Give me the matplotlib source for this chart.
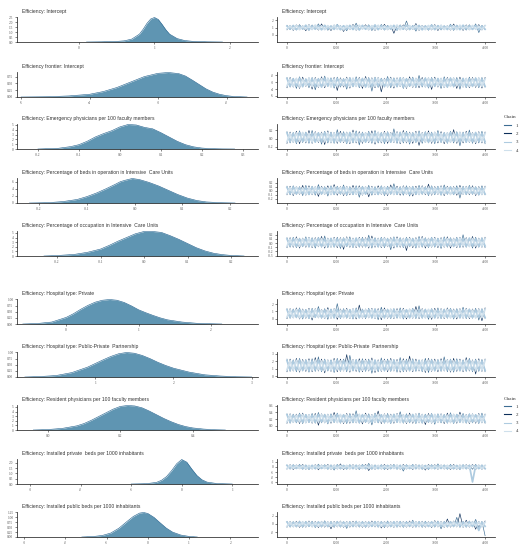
import numpy as np
import matplotlib
matplotlib.use("Agg")
import matplotlib.pyplot as plt
from matplotlib.lines import Line2D

# ---------------------------------------------------------------- data
titles = [
    "Efficiency: Intercept",
    "Efficiency frontier: Intercept",
    "Efficiency: Emergency physicians per 100 faculty members",
    "Efficiency: Percentage of beds in operation in Intensive  Care Units",
    "Efficiency: Percentage of occupation in Intensive  Care Units",
    "Efficiency: Hospital type: Private",
    "Efficiency: Hospital type: Public-Private  Partnership",
    "Efficiency: Resident physicians per 100 faculty members",
    "Efficiency: Installed private  beds per 1000 inhabitants",
    "Efficiency: Installed public beds per 1000 inhabitants",
]
chain_labels = ["1", "2", "3", "4"]
n_iterations = 4000
trace_xticks = [0, 1000, 2000, 3000, 4000]

# --- panel 1: Intercept
p1_dens_x = [0.1, 0.3, 0.5, 0.6, 0.7, 0.8, 0.85, 0.9, 0.95, 1.0, 1.05, 1.1, 1.15, 1.2, 1.3, 1.4, 1.5, 1.7, 1.9]
p1_dens_y = [0.0, 0.02, 0.06, 0.12, 0.3, 0.8, 1.3, 1.9, 2.35, 2.5, 2.3, 1.8, 1.25, 0.8, 0.35, 0.15, 0.07, 0.02, 0.0]
p1_dens_lims = (-0.82, 2.37)
p1_dens_xticks = [0, 1, 2]
p1_dens_yticks = [0, 0.5, 1.0, 1.5, 2.0, 2.5]
p1_trace_lims = (-1.0, 2.45)
p1_trace_yticks = [0, 1, 2]
p1_chains = [
    [1.3, 0.7, 1.25, 0.65, 1.4, 0.75, 1.2, 0.6, 1.35, 0.8, 1.5, 0.7, 1.3, 0.62, 1.22, 0.78, 1.45, 0.68, 1.28, 0.55, 1.33, 0.72,
     1.6, 0.66, 1.26, 0.74, 1.38, 0.58, 1.24, 0.7, 1.42, 0.64, 1.3, 0.76, 1.2, 0.6, 1.36, 0.7, 1.9, 0.68, 1.28, 0.5, 1.32,
     0.74, 1.25, 0.62, 1.4, 0.7, 1.3, 0.66, 1.22, 0.78, 1.46, 0.6, 1.34, 0.72, 1.27, 0.64, 1.38, 0.7, 1.5, 0.3, 1.3, 0.72],
    [0.68, 1.3, 0.6, 1.36, 0.74, 1.24, 0.55, 1.4, 0.7, 1.28, 0.64, 1.5, 0.72, 1.2, 0.58, 1.34, 0.76, 1.26, 0.45, 1.3, 0.7,
     1.42, 0.62, 1.25, 0.8, 1.38, 0.66, 1.22, 0.6, 1.32, 0.74, 1.44, 0.68, 1.28, 0.2, 1.3, 0.7, 1.36, 0.64, 1.24, 0.72, 1.55,
     0.6, 1.3, 0.76, 1.27, 0.66, 1.4, 0.58, 1.33, 0.7, 1.25, 0.64, 1.48, 0.72, 1.3, 0.6, 1.36, 0.68, 1.22, 0.74, 1.4, 0.66, 1.3],
    [1.2, 0.78, 1.28, 0.72, 1.18, 0.8, 1.32, 0.7, 1.22, 0.76, 1.26, 0.68, 1.3, 0.8, 1.2, 0.74, 1.34, 0.7, 1.24, 0.78, 1.28,
     0.72, 1.2, 0.66, 1.3, 0.76, 1.22, 0.8, 1.36, 0.7, 1.25, 0.74, 1.18, 0.78, 1.3, 0.7, 1.24, 0.76, 1.32, 0.72, 1.2, 0.8,
     1.28, 0.68, 1.22, 0.74, 1.34, 0.7, 1.26, 0.78, 1.2, 0.72, 1.3, 0.76, 1.24, 0.7, 1.32, 0.8, 1.22, 0.74, 1.28, 0.7, 1.2, 0.76],
    [0.8, 1.24, 0.74, 1.3, 0.7, 1.2, 0.78, 1.28, 0.72, 1.34, 0.76, 1.22, 0.7, 1.26, 0.8, 1.3, 0.74, 1.2, 0.68, 1.28, 0.76,
     1.24, 0.72, 1.32, 0.78, 1.2, 0.7, 1.26, 0.74, 1.3, 0.8, 1.22, 0.72, 1.28, 0.76, 1.34, 0.7, 1.2, 0.74, 1.26, 0.78, 1.3,
     0.72, 1.22, 0.7, 1.28, 0.76, 1.24, 0.8, 1.3, 0.72, 1.2, 0.74, 1.26, 0.7, 1.32, 0.78, 1.22, 0.72, 1.28, 0.76, 1.2, 0.74, 1.26],
]

# --- panel 2: Efficiency frontier intercept
p2_dens_x = [-5.0, -4.6, -4.3, -4.0, -3.8, -3.6, -3.4, -3.2, -3.0, -2.85, -2.7, -2.6, -2.5, -2.4, -2.3, -2.2, -2.1, -2.0, -1.9, -1.7]
p2_dens_y = [0.0, 0.01, 0.04, 0.1, 0.2, 0.35, 0.55, 0.75, 0.87, 0.9, 0.86, 0.77, 0.62, 0.46, 0.3, 0.18, 0.1, 0.05, 0.02, 0.0]
p2_dens_lims = (-5.06, -1.54)
p2_dens_xticks = [-5, -4, -3, -2]
p2_dens_yticks = [0, 0.25, 0.5, 0.75]
p2_trace_lims = (-5.15, -1.5)
p2_trace_yticks = [-5, -4, -3, -2]
p2_chains = [
    [-2.3, -3.7, -2.4, -3.9, -2.2, -3.6, -2.5, -3.8, -2.3, -4.1, -2.4, -3.7, -2.1, -3.6, -2.35, -3.85, -2.25, -3.7, -2.45,
     -4.0, -2.3, -3.65, -2.2, -3.8, -2.4, -3.7, -2.3, -4.3, -2.25, -3.75, -2.4, -3.6, -2.15, -3.8, -2.35, -3.7, -2.3, -3.9,
     -2.4, -3.65, -2.25, -3.8, -2.0, -3.7, -2.35, -3.85, -2.3, -3.6, -2.45, -3.9, -2.2, -3.75, -2.35, -3.7, -2.3, -4.0, -2.4,
     -3.8, -2.25, -3.65, -2.35, -3.8, -2.3, -3.7],
    [-3.8, -2.3, -3.7, -2.4, -3.9, -2.25, -3.6, -2.35, -4.0, -2.3, -3.75, -2.2, -3.8, -2.4, -3.65, -2.3, -4.2, -2.35, -3.7,
     -2.25, -3.85, -2.4, -3.6, -2.3, -3.9, -2.15, -3.7, -2.35, -3.8, -2.3, -4.4, -2.4, -3.7, -2.25, -3.85, -2.35, -3.65, -2.3,
     -3.9, -2.2, -3.75, -2.4, -3.8, -2.3, -3.7, -2.35, -4.05, -2.25, -3.7, -2.4, -3.8, -2.3, -3.65, -2.35, -3.9, -2.25, -3.7,
     -2.4, -3.8, -2.3, -3.75, -2.35, -3.85, -2.3],
    [-2.45, -3.6, -2.5, -3.55, -2.4, -3.65, -2.55, -3.5, -2.45, -3.6, -2.5, -3.7, -2.4, -3.55, -2.5, -3.6, -2.45, -3.5, -2.55,
     -3.65, -2.4, -3.6, -2.5, -3.55, -2.45, -3.7, -2.5, -3.6, -2.4, -3.55, -2.55, -3.65, -2.45, -3.5, -2.5, -3.6, -2.4, -3.7,
     -2.5, -3.55, -2.45, -3.6, -2.55, -3.5, -2.4, -3.65, -2.5, -3.6, -2.45, -3.55, -2.5, -3.7, -2.4, -3.6, -2.55, -3.5, -2.45,
     -3.65, -2.5, -3.6, -2.4, -3.55, -2.5, -3.6],
    [-3.55, -2.5, -3.6, -2.45, -3.7, -2.55, -3.5, -2.4, -3.65, -2.5, -3.6, -2.45, -3.55, -2.4, -3.7, -2.5, -3.6, -2.55, -3.5,
     -2.45, -3.65, -2.4, -3.6, -2.5, -3.55, -2.45, -3.7, -2.5, -3.6, -2.4, -3.5, -2.55, -3.65, -2.45, -3.6, -2.5, -3.55, -2.4,
     -3.7, -2.5, -3.6, -2.45, -3.5, -2.55, -3.65, -2.4, -3.6, -2.5, -3.55, -2.45, -3.7, -2.5, -3.6, -2.4, -3.5, -2.55, -3.65,
     -2.45, -3.6, -2.5, -3.55, -2.4, -3.6, -2.5],
]

# --- panel 3: Emergency physicians per 100 faculty members
p3_dens_x = [-0.2, -0.15, -0.12, -0.1, -0.08, -0.06, -0.04, -0.02, 0.0, 0.02, 0.04, 0.06, 0.08, 0.1, 0.12, 0.14, 0.16, 0.18, 0.2, 0.22, 0.25, 0.28]
p3_dens_y = [0.0, 0.15, 0.5, 0.9, 1.6, 2.5, 3.2, 3.8, 4.6, 5.1, 5.0, 4.5, 4.2, 3.4, 2.5, 1.6, 0.9, 0.45, 0.2, 0.08, 0.02, 0.0]
p3_dens_lims = (-0.251, 0.337)
p3_dens_xticks = [-0.2, -0.1, 0.0, 0.1, 0.2, 0.3]
p3_dens_yticks = [0, 1, 2, 3, 4, 5]
p3_trace_lims = (-0.26, 0.36)
p3_trace_yticks = [-0.2, 0.0, 0.2]
p3_chains = [
    [0.17, -0.11, 0.15, -0.13, 0.19, -0.1, 0.16, -0.12, 0.2, -0.09, 0.15, -0.14, 0.18, -0.11, 0.16, -0.12, 0.22, -0.1, 0.17,
     -0.13, 0.15, -0.11, 0.19, -0.16, 0.16, -0.1, 0.18, -0.12, 0.2, -0.11, 0.15, -0.13, 0.17, -0.1, 0.24, -0.12, 0.16, -0.11,
     0.18, -0.14, 0.15, -0.1, 0.19, -0.12, 0.17, -0.11, 0.16, -0.13, 0.2, -0.1, 0.15, -0.12, 0.18, -0.11, 0.17, -0.18, 0.16,
     -0.1, 0.21, -0.12, 0.15, -0.11, 0.18, -0.13],
    [-0.12, 0.16, -0.1, 0.18, -0.13, 0.15, -0.11, 0.2, -0.12, 0.17, -0.1, 0.16, -0.15, 0.19, -0.11, 0.15, -0.12, 0.18, -0.1,
     0.16, -0.13, 0.21, -0.11, 0.17, -0.12, 0.15, -0.1, 0.19, -0.14, 0.16, -0.11, 0.18, -0.12, 0.15, -0.1, 0.17, -0.13, 0.2,
     -0.11, 0.16, -0.12, 0.18, -0.17, 0.15, -0.1, 0.19, -0.12, 0.16, -0.11, 0.17, -0.13, 0.15, -0.1, 0.22, -0.12, 0.16, -0.11,
     0.18, -0.1, 0.15, -0.13, 0.17, -0.11, 0.16],
    [0.14, -0.08, 0.13, -0.09, 0.15, -0.07, 0.14, -0.08, 0.13, -0.09, 0.14, -0.08, 0.15, -0.07, 0.13, -0.09, 0.14, -0.08,
     0.13, -0.1, 0.15, -0.08, 0.14, -0.07, 0.13, -0.09, 0.14, -0.08, 0.15, -0.07, 0.13, -0.08, 0.14, -0.09, 0.13, -0.08, 0.15,
     -0.07, 0.14, -0.09, 0.13, -0.08, 0.14, -0.07, 0.15, -0.09, 0.13, -0.08, 0.14, -0.08, 0.13, -0.09, 0.15, -0.07, 0.14,
     -0.08, 0.13, -0.09, 0.14, -0.08, 0.15, -0.07, 0.13, -0.08],
    [-0.08, 0.13, -0.09, 0.14, -0.07, 0.15, -0.08, 0.13, -0.09, 0.14, -0.07, 0.13, -0.08, 0.15, -0.09, 0.14, -0.08, 0.13,
     -0.07, 0.14, -0.09, 0.15, -0.08, 0.13, -0.08, 0.14, -0.07, 0.13, -0.09, 0.15, -0.08, 0.14, -0.07, 0.13, -0.08, 0.14,
     -0.09, 0.15, -0.08, 0.13, -0.07, 0.14, -0.08, 0.13, -0.09, 0.14, -0.08, 0.15, -0.07, 0.13, -0.08, 0.14, -0.09, 0.13,
     -0.08, 0.15, -0.07, 0.14, -0.08, 0.13, -0.09, 0.14, -0.08, 0.13],
]

# --- panel 4: Percentage of beds in operation in ICU
p4_dens_x = [-0.22, -0.18, -0.15, -0.12, -0.1, -0.08, -0.06, -0.04, -0.03, -0.02, -0.005, 0.01, 0.03, 0.05, 0.07, 0.09, 0.11, 0.13, 0.15, 0.18, 0.21]
p4_dens_y = [0.0, 0.1, 0.4, 1.0, 1.8, 2.8, 4.0, 5.3, 6.0, 6.4, 6.9, 6.6, 5.8, 4.8, 3.6, 2.4, 1.4, 0.7, 0.3, 0.08, 0.0]
p4_dens_lims = (-0.246, 0.258)
p4_dens_xticks = [-0.2, -0.1, 0.0, 0.1, 0.2]
p4_dens_yticks = [0, 2, 4, 6]
p4_trace_lims = (-0.3, 0.31)
p4_trace_yticks = [-0.2, -0.1, 0.0, 0.1, 0.2]
p4_chains = [
    [0.11, -0.1, 0.12, -0.09, 0.1, -0.12, 0.13, -0.1, 0.11, -0.11, 0.15, -0.09, 0.1, -0.13, 0.12, -0.1, 0.11, -0.09, 0.14,
     -0.12, 0.1, -0.1, 0.12, -0.16, 0.11, -0.09, 0.13, -0.11, 0.1, -0.1, 0.12, -0.12, 0.11, -0.09, 0.17, -0.1, 0.1, -0.11,
     0.12, -0.13, 0.11, -0.1, 0.13, -0.09, 0.1, -0.12, 0.12, -0.1, 0.11, -0.11, 0.14, -0.09, 0.1, -0.1, 0.12, -0.18, 0.11,
     -0.1, 0.13, -0.09, 0.1, -0.11, 0.12, -0.1],
    [-0.1, 0.11, -0.12, 0.1, -0.09, 0.13, -0.11, 0.12, -0.1, 0.1, -0.14, 0.11, -0.09, 0.12, -0.1, 0.15, -0.11, 0.1, -0.12,
     0.11, -0.1, 0.13, -0.09, 0.12, -0.11, 0.1, -0.15, 0.11, -0.1, 0.12, -0.09, 0.1, -0.12, 0.14, -0.1, 0.11, -0.11, 0.12,
     -0.09, 0.1, -0.13, 0.11, -0.1, 0.12, -0.1, 0.16, -0.11, 0.1, -0.09, 0.12, -0.12, 0.11, -0.1, 0.1, -0.11, 0.13, -0.09,
     0.11, -0.1, 0.12, -0.12, 0.1, -0.1, 0.11],
    [0.08, -0.07, 0.09, -0.08, 0.07, -0.07, 0.08, -0.09, 0.09, -0.07, 0.08, -0.08, 0.07, -0.07, 0.09, -0.08, 0.08, -0.07,
     0.09, -0.09, 0.07, -0.08, 0.08, -0.07, 0.09, -0.08, 0.08, -0.07, 0.07, -0.09, 0.09, -0.08, 0.08, -0.07, 0.09, -0.08,
     0.07, -0.07, 0.08, -0.09, 0.09, -0.08, 0.08, -0.07, 0.07, -0.08, 0.09, -0.07, 0.08, -0.09, 0.08, -0.07, 0.09, -0.08,
     0.07, -0.07, 0.08, -0.08, 0.09, -0.07, 0.08, -0.09, 0.07, -0.08],
    [-0.07, 0.08, -0.08, 0.09, -0.07, 0.07, -0.09, 0.08, -0.08, 0.09, -0.07, 0.08, -0.08, 0.07, -0.09, 0.09, -0.07, 0.08,
     -0.08, 0.09, -0.07, 0.07, -0.08, 0.08, -0.09, 0.09, -0.07, 0.08, -0.08, 0.07, -0.07, 0.09, -0.08, 0.08, -0.09, 0.07,
     -0.07, 0.09, -0.08, 0.08, -0.08, 0.07, -0.09, 0.09, -0.07, 0.08, -0.08, 0.07, -0.07, 0.09, -0.08, 0.08, -0.09, 0.07,
     -0.07, 0.08, -0.08, 0.09, -0.07, 0.08, -0.08, 0.07, -0.09, 0.08],
]

# --- panel 5: Percentage of occupation in ICU
p5_dens_x = [-0.23, -0.2, -0.16, -0.13, -0.1, -0.08, -0.06, -0.04, -0.02, 0.0, 0.02, 0.04, 0.06, 0.08, 0.1, 0.12, 0.14, 0.16, 0.18, 0.2, 0.23]
p5_dens_y = [0.0, 0.1, 0.35, 0.8, 1.5, 2.3, 3.2, 4.0, 4.8, 5.3, 5.3, 5.1, 4.4, 3.6, 2.7, 1.8, 1.1, 0.6, 0.3, 0.12, 0.0]
p5_dens_lims = (-0.292, 0.262)
p5_dens_xticks = [-0.2, -0.1, 0.0, 0.1, 0.2]
p5_dens_yticks = [0, 1, 2, 3, 4, 5]
p5_trace_lims = (-0.31, 0.29)
p5_trace_yticks = [-0.3, -0.2, -0.1, 0.0, 0.1, 0.2]
p5_chains = [
    [0.13, -0.1, 0.14, -0.11, 0.12, -0.09, 0.15, -0.1, 0.13, -0.12, 0.14, -0.1, 0.17, -0.11, 0.12, -0.1, 0.14, -0.13, 0.13,
     -0.09, 0.15, -0.11, 0.12, -0.1, 0.14, -0.1, 0.19, -0.12, 0.13, -0.1, 0.14, -0.11, 0.12, -0.16, 0.15, -0.1, 0.13, -0.11,
     0.14, -0.09, 0.12, -0.12, 0.16, -0.1, 0.13, -0.11, 0.14, -0.1, 0.12, -0.13, 0.15, -0.1, 0.13, -0.09, 0.14, -0.11, 0.2,
     -0.1, 0.12, -0.12, 0.14, -0.1, 0.13, -0.11],
    [-0.11, 0.13, -0.1, 0.15, -0.12, 0.12, -0.1, 0.14, -0.11, 0.13, -0.09, 0.16, -0.12, 0.12, -0.1, 0.14, -0.11, 0.13, -0.15,
     0.15, -0.1, 0.12, -0.11, 0.14, -0.1, 0.13, -0.12, 0.17, -0.1, 0.12, -0.11, 0.14, -0.09, 0.13, -0.12, 0.15, -0.1, 0.12,
     -0.18, 0.14, -0.11, 0.13, -0.1, 0.16, -0.12, 0.12, -0.1, 0.14, -0.11, 0.13, -0.1, 0.15, -0.12, 0.12, -0.11, 0.14, -0.1,
     0.13, -0.09, 0.16, -0.12, 0.12, -0.1, 0.14],
    [0.1, -0.07, 0.11, -0.08, 0.1, -0.07, 0.11, -0.08, 0.1, -0.07, 0.12, -0.08, 0.1, -0.07, 0.11, -0.08, 0.1, -0.08, 0.11,
     -0.07, 0.1, -0.08, 0.12, -0.07, 0.1, -0.08, 0.11, -0.07, 0.1, -0.08, 0.11, -0.07, 0.1, -0.08, 0.12, -0.07, 0.1, -0.08,
     0.11, -0.07, 0.1, -0.08, 0.11, -0.07, 0.1, -0.08, 0.12, -0.07, 0.1, -0.08, 0.11, -0.07, 0.1, -0.08, 0.11, -0.07, 0.1,
     -0.08, 0.12, -0.07, 0.1, -0.08, 0.11, -0.07],
    [-0.08, 0.1, -0.07, 0.11, -0.08, 0.1, -0.07, 0.12, -0.08, 0.1, -0.07, 0.11, -0.08, 0.1, -0.08, 0.11, -0.07, 0.1, -0.08,
     0.12, -0.07, 0.1, -0.08, 0.11, -0.07, 0.1, -0.08, 0.11, -0.07, 0.1, -0.08, 0.12, -0.07, 0.1, -0.08, 0.11, -0.07, 0.1,
     -0.08, 0.11, -0.07, 0.1, -0.08, 0.12, -0.07, 0.1, -0.08, 0.11, -0.07, 0.1, -0.08, 0.11, -0.07, 0.1, -0.08, 0.12, -0.07,
     0.1, -0.08, 0.11, -0.07, 0.1, -0.08, 0.11],
]

# --- panel 6: Hospital type: Private
p6_dens_x = [-0.6, -0.4, -0.2, 0.0, 0.1, 0.2, 0.3, 0.4, 0.5, 0.6, 0.7, 0.8, 0.9, 1.0, 1.1, 1.2, 1.3, 1.4, 1.6, 1.8, 2.0, 2.15]
p6_dens_y = [0.0, 0.02, 0.08, 0.27, 0.42, 0.6, 0.76, 0.89, 0.97, 1.0, 0.97, 0.88, 0.74, 0.58, 0.46, 0.35, 0.25, 0.17, 0.08, 0.03, 0.01, 0.0]
p6_dens_lims = (-0.68, 2.65)
p6_dens_xticks = [0, 1, 2]
p6_dens_yticks = [0, 0.25, 0.5, 0.75, 1.0]
p6_trace_lims = (-0.75, 2.75)
p6_trace_yticks = [0, 1, 2]
p6_chains = [
    [1.4, 0.05, 1.35, 0.1, 1.5, -0.05, 1.3, 0.0, 1.45, 0.15, 1.7, 0.05, 1.4, -0.1, 1.35, 0.1, 2.1, 0.0, 1.4, 0.05, 1.3,
     -0.05, 1.5, 0.1, 1.35, 0.0, 1.45, 0.05, 1.4, -0.15, 1.6, 0.1, 1.35, 0.0, 1.4, 0.05, 1.5, -0.05, 1.3, 0.1, 1.45, 0.0,
     1.8, 0.05, 1.35, -0.1, 1.4, 0.1, 1.5, 0.0, 1.35, 0.05, 1.45, -0.05, 1.4, 0.1, 1.6, 0.0, 1.35, 0.05, 1.45, -0.2, 1.4, 0.05],
    [0.0, 1.4, 0.1, 1.5, -0.05, 1.35, 0.05, 1.45, -0.2, 1.4, 0.1, 1.3, 0.0, 1.55, 0.05, 1.4, -0.1, 1.35, 0.1, 1.45, 0.0,
     1.4, -0.05, 1.9, 0.05, 1.35, 0.1, 1.45, 0.0, 1.4, -0.15, 1.5, 0.05, 1.35, 0.0, 1.4, 0.1, 1.45, -0.05, 1.35, 0.05, 1.7,
     0.0, 1.4, 0.1, 1.3, -0.1, 1.45, 0.05, 1.4, 0.0, 1.5, 0.1, 1.35, -0.05, 1.4, 0.05, 1.45, 0.0, 1.35, 0.1, 1.4, -0.3, 1.5],
    [1.25, 0.15, 1.2, 0.2, 1.3, 0.15, 1.2, 0.1, 1.25, 0.2, 1.3, 0.15, 1.2, 0.2, 1.25, 0.1, 1.3, 0.15, 1.2, 0.2, 1.25, 0.15,
     1.3, 0.1, 1.2, 0.2, 1.25, 0.15, 1.3, 0.2, 1.2, 0.1, 1.25, 0.15, 1.3, 0.2, 1.2, 0.15, 1.25, 0.1, 1.3, 0.2, 1.2, 0.15,
     1.25, 0.2, 1.3, 0.1, 1.2, 0.15, 1.25, 0.2, 1.3, 0.15, 1.2, 0.1, 1.25, 0.2, 1.3, 0.15, 1.2, 0.2, 1.25, 0.15],
    [0.2, 1.25, 0.15, 1.3, 0.1, 1.2, 0.2, 1.25, 0.15, 1.3, 0.2, 1.2, 0.1, 1.25, 0.15, 1.3, 0.2, 1.2, 0.15, 1.25, 0.1, 1.3,
     0.2, 1.2, 0.15, 1.25, 0.2, 1.3, 0.1, 1.2, 0.15, 1.25, 0.2, 1.3, 0.15, 1.2, 0.1, 1.25, 0.2, 1.3, 0.15, 1.2, 0.2, 1.25,
     0.1, 1.3, 0.15, 1.2, 0.2, 1.25, 0.15, 1.3, 0.1, 1.2, 0.2, 1.25, 0.15, 1.3, 0.2, 1.2, 0.1, 1.25, 0.15, 1.3],
]

# --- panel 7: Hospital type: Public-Private Partnership
p7_dens_x = [0.1, 0.3, 0.5, 0.7, 0.9, 1.0, 1.1, 1.2, 1.3, 1.4, 1.5, 1.6, 1.7, 1.8, 1.9, 2.0, 2.2, 2.4, 2.6, 2.8, 3.0]
p7_dens_y = [0.0, 0.02, 0.06, 0.18, 0.4, 0.55, 0.7, 0.84, 0.95, 1.0, 0.97, 0.88, 0.75, 0.6, 0.47, 0.36, 0.2, 0.09, 0.04, 0.01, 0.0]
p7_dens_lims = (0.0, 3.08)
p7_dens_xticks = [1, 2, 3]
p7_dens_yticks = [0, 0.25, 0.5, 0.75, 1.0]
p7_trace_lims = (-0.1, 3.25)
p7_trace_yticks = [0, 1, 2, 3]
p7_chains = [
    [2.3, 0.65, 2.2, 0.6, 2.4, 0.7, 2.25, 0.55, 2.35, 0.65, 2.6, 0.6, 2.3, 0.7, 2.2, 0.5, 2.4, 0.65, 2.3, 0.6, 2.8, 0.7,
     2.25, 0.55, 2.35, 0.65, 2.3, 0.4, 2.2, 0.6, 2.45, 0.7, 2.3, 0.65, 2.25, 0.55, 2.5, 0.6, 2.3, 0.7, 2.35, 0.65, 2.2, 0.6,
     2.4, 0.5, 2.3, 0.7, 2.25, 0.65, 2.6, 0.6, 2.3, 0.55, 2.35, 0.7, 2.2, 0.65, 2.4, 0.6, 2.3, 0.65, 2.25, 0.6],
    [0.6, 2.3, 0.7, 2.4, 0.55, 2.25, 0.65, 2.35, 0.6, 2.5, 0.7, 2.3, 0.45, 2.2, 0.65, 2.4, 0.6, 2.3, 0.7, 2.9, 0.55, 2.25,
     0.65, 2.35, 0.6, 2.3, 0.7, 2.45, 0.5, 2.2, 0.65, 2.3, 0.6, 2.4, 0.7, 2.25, 0.55, 2.35, 0.65, 2.7, 0.6, 2.3, 0.7, 2.2,
     0.5, 2.4, 0.65, 2.3, 0.6, 2.35, 0.7, 2.25, 0.55, 2.4, 0.65, 2.3, 0.6, 2.5, 0.7, 2.2, 0.3, 2.35, 0.65, 2.3],
    [2.1, 0.8, 2.05, 0.85, 2.15, 0.8, 2.1, 0.75, 2.05, 0.85, 2.15, 0.8, 2.1, 0.85, 2.05, 0.75, 2.15, 0.8, 2.1, 0.85, 2.05,
     0.8, 2.15, 0.75, 2.1, 0.85, 2.05, 0.8, 2.15, 0.85, 2.1, 0.75, 2.05, 0.8, 2.15, 0.85, 2.1, 0.8, 2.05, 0.75, 2.15, 0.85,
     2.1, 0.8, 2.05, 0.85, 2.15, 0.75, 2.1, 0.8, 2.05, 0.85, 2.15, 0.8, 2.1, 0.75, 2.05, 0.85, 2.15, 0.8, 2.1, 0.85, 2.05, 0.8],
    [0.85, 2.1, 0.8, 2.15, 0.75, 2.05, 0.85, 2.1, 0.8, 2.15, 0.85, 2.05, 0.75, 2.1, 0.8, 2.15, 0.85, 2.05, 0.8, 2.1, 0.75,
     2.15, 0.85, 2.05, 0.8, 2.1, 0.85, 2.15, 0.75, 2.05, 0.8, 2.1, 0.85, 2.15, 0.8, 2.05, 0.75, 2.1, 0.85, 2.15, 0.8, 2.05,
     0.85, 2.1, 0.75, 2.15, 0.8, 2.05, 0.85, 2.1, 0.8, 2.15, 0.75, 2.05, 0.85, 2.1, 0.8, 2.15, 0.85, 2.05, 0.75, 2.1, 0.8, 2.15],
]

# --- panel 8: Resident physicians per 100 faculty members
p8_dens_x = [-0.04, 0.0, 0.04, 0.08, 0.1, 0.12, 0.14, 0.16, 0.18, 0.2, 0.22, 0.24, 0.26, 0.28, 0.3, 0.32, 0.34, 0.36, 0.38, 0.4, 0.43, 0.46, 0.49]
p8_dens_y = [0.0, 0.1, 0.35, 0.9, 1.4, 2.1, 2.9, 3.7, 4.5, 5.1, 5.3, 5.2, 4.8, 4.1, 3.3, 2.5, 1.8, 1.2, 0.75, 0.45, 0.2, 0.06, 0.0]
p8_dens_lims = (-0.085, 0.58)
p8_dens_xticks = [0.0, 0.2, 0.4]
p8_dens_yticks = [0, 1, 2, 3, 4, 5]
p8_trace_lims = (-0.12, 0.62)
p8_trace_yticks = [0.0, 0.2, 0.4, 0.6]
p8_chains = [
    [0.36, 0.08, 0.35, 0.09, 0.38, 0.07, 0.34, 0.1, 0.37, 0.08, 0.4, 0.09, 0.35, 0.06, 0.36, 0.1, 0.38, 0.08, 0.34, 0.07,
     0.37, 0.09, 0.45, 0.08, 0.35, 0.1, 0.36, 0.03, 0.38, 0.09, 0.34, 0.08, 0.37, 0.07, 0.35, 0.1, 0.42, 0.08, 0.36, 0.09,
     0.34, 0.07, 0.38, 0.08, 0.35, 0.1, 0.37, 0.05, 0.36, 0.09, 0.34, 0.08, 0.39, 0.07, 0.35, 0.1, 0.37, 0.08, 0.36, 0.09,
     0.34, 0.07, 0.38, 0.08],
    [0.08, 0.36, 0.1, 0.35, 0.07, 0.38, 0.09, 0.34, 0.08, 0.37, 0.02, 0.36, 0.09, 0.35, 0.08, 0.4, 0.1, 0.34, 0.07, 0.37,
     0.08, 0.36, 0.09, 0.35, 0.06, 0.38, 0.08, 0.34, 0.1, 0.44, 0.07, 0.36, 0.09, 0.35, 0.08, 0.37, 0.1, 0.34, 0.07, 0.38,
     0.08, 0.36, 0.09, 0.35, 0.04, 0.37, 0.08, 0.34, 0.1, 0.36, 0.07, 0.38, 0.09, 0.35, 0.08, 0.41, 0.1, 0.34, 0.07, 0.36,
     0.08, 0.37, 0.09, 0.35],
    [0.33, 0.11, 0.32, 0.12, 0.34, 0.11, 0.33, 0.12, 0.32, 0.11, 0.34, 0.12, 0.33, 0.1, 0.32, 0.12, 0.34, 0.11, 0.33, 0.12,
     0.32, 0.11, 0.34, 0.1, 0.33, 0.12, 0.32, 0.11, 0.34, 0.12, 0.33, 0.11, 0.32, 0.1, 0.34, 0.12, 0.33, 0.11, 0.32, 0.12,
     0.34, 0.11, 0.33, 0.1, 0.32, 0.12, 0.34, 0.11, 0.33, 0.12, 0.32, 0.11, 0.34, 0.1, 0.33, 0.12, 0.32, 0.11, 0.34, 0.12,
     0.33, 0.11, 0.32, 0.12],
    [0.12, 0.33, 0.11, 0.32, 0.12, 0.34, 0.1, 0.33, 0.11, 0.32, 0.12, 0.34, 0.11, 0.33, 0.12, 0.32, 0.1, 0.34, 0.11, 0.33,
     0.12, 0.32, 0.11, 0.34, 0.12, 0.33, 0.1, 0.32, 0.11, 0.34, 0.12, 0.33, 0.11, 0.32, 0.12, 0.34, 0.1, 0.33, 0.11, 0.32,
     0.12, 0.34, 0.11, 0.33, 0.12, 0.32, 0.1, 0.34, 0.11, 0.33, 0.12, 0.32, 0.11, 0.34, 0.12, 0.33, 0.1, 0.32, 0.11, 0.34,
     0.12, 0.33, 0.11, 0.32],
]

# --- panel 9: Installed private beds per 1000 inhabitants
p9_dens_x = [-1.0, -0.7, -0.5, -0.4, -0.3, -0.2, -0.1, 0.0, 0.1, 0.2, 0.3, 0.4, 0.5, 0.7, 1.0]
p9_dens_y = [0.0, 0.03, 0.15, 0.35, 0.7, 1.25, 1.9, 2.3, 2.05, 1.4, 0.8, 0.4, 0.18, 0.04, 0.0]
p9_dens_lims = (-3.26, 1.51)
p9_dens_xticks = [-3, -2, -1, 0, 1]
p9_dens_yticks = [0, 0.5, 1.0, 1.5, 2.0]
p9_trace_lims = (-3.3, 1.55)
p9_trace_yticks = [-3, -2, -1, 0, 1]
p9_chains = [
    [0.4, -0.4, 0.45, -0.35, 0.5, -0.45, 0.4, -0.5, 0.35, -0.4, 0.55, -0.35, 0.45, -0.45, 0.4, -0.6, 0.5, -0.4, 0.35, -0.45,
     0.45, -0.35, 0.4, -0.5, 0.5, -0.4, 0.7, -0.45, 0.4, -0.35, 0.45, -0.5, 0.35, -0.4, 0.5, -0.45, 0.4, -0.8, 0.45, -0.35,
     0.5, -0.4, 0.4, -0.45, 0.35, -0.5, 0.45, -0.4, 0.6, -0.35, 0.4, -0.45, 0.5, -0.4, 0.35, -0.5, 0.45, -0.4, 0.4, -0.45,
     0.5, -0.35, 0.4, -0.4],
    [-0.4, 0.45, -0.5, 0.4, -0.35, 0.5, -0.45, 0.35, -0.4, 0.45, -0.55, 0.4, -0.35, 0.5, -0.45, 0.4, -0.4, 0.6, -0.5, 0.35,
     -0.4, 0.45, -0.45, 0.4, -0.35, 0.5, -0.7, 0.4, -0.45, 0.35, -0.4, 0.5, -0.5, 0.45, -0.35, 0.4, -0.45, 0.5, -0.4, 0.35,
     -0.5, 0.45, -0.4, 0.4, -0.6, 0.5, -0.35, 0.45, -0.45, 0.4, -0.4, 0.35, -0.5, 0.5, -0.45, 0.4, -0.35, 0.45, -0.4, 0.5,
     -0.5, 0.4, -0.45, 0.35],
    [0.3, -0.3, 0.32, -0.28, 0.3, -0.32, 0.28, -0.3, 0.32, -0.3, 0.3, -0.28, 0.28, -0.32, 0.3, -0.3, 0.32, -0.28, 0.3, -0.3,
     0.28, -0.32, 0.3, -0.3, 0.32, -0.28, 0.3, -0.3, 0.28, -0.32, 0.3, -0.3, 0.32, -0.28, 0.3, -0.3, 0.28, -0.32, 0.3, -0.3,
     0.32, -0.28, 0.3, -0.3, 0.28, -0.32, 0.3, -0.3, 0.32, -0.28, 0.3, -0.3, 0.28, -0.32, 0.3, -0.3, 0.32, -0.28, 0.3, -2.9,
     0.28, -0.32, 0.3, -0.3],
    [-0.3, 0.3, -0.28, 0.32, -0.3, 0.3, -0.32, 0.28, -0.3, 0.3, -0.28, 0.32, -0.3, 0.3, -0.32, 0.28, -0.3, 0.3, -0.28, 0.32,
     -0.3, 0.3, -0.32, 0.28, -0.3, 0.3, -0.28, 0.32, -0.3, 0.3, -0.32, 0.28, -0.3, 0.3, -0.28, 0.32, -0.3, 0.3, -0.32, 0.28,
     -0.3, 0.3, -0.28, 0.32, -0.3, 0.3, -0.32, 0.28, -0.3, 0.3, -0.28, 0.32, -0.3, 0.3, -0.32, 0.28, -0.3, 0.3, -0.28, 0.32,
     -0.3, 0.3, -0.32, 0.28],
]

# --- panel 10: Installed public beds per 1000 inhabitants
p10_dens_x = [-1.6, -1.3, -1.1, -0.9, -0.7, -0.5, -0.35, -0.2, -0.1, 0.0, 0.15, 0.3, 0.45, 0.6, 0.8, 1.0, 1.2]
p10_dens_y = [0.0, 0.03, 0.08, 0.2, 0.45, 0.8, 1.05, 1.22, 1.25, 1.2, 1.0, 0.72, 0.45, 0.25, 0.1, 0.03, 0.0]
p10_dens_lims = (-3.17, 2.67)
p10_dens_xticks = [-3, -2, -1, 0, 1, 2]
p10_dens_yticks = [0, 0.25, 0.5, 0.75, 1.0, 1.25]
p10_trace_lims = (-3.2, 2.9)
p10_trace_yticks = [-2, 0, 2]
p10_chains = [
    [0.6, -0.8, 0.55, -0.75, 0.7, -0.85, 0.6, -0.7, 0.65, -0.9, 0.55, -0.8, 0.75, -0.75, 0.6, -0.85, 0.65, -0.8, 0.55, -1.1,
     0.6, -0.75, 0.7, -0.8, 0.6, -0.85, 0.55, -0.7, 0.65, -0.8, 0.6, -0.9, 0.7, -0.75, 0.55, -0.8, 0.65, -0.85, 0.6, -0.75,
     0.9, -0.8, 0.6, -0.85, 0.65, -0.7, 0.55, -0.8, 0.7, -1.2, 0.6, -0.8, 0.65, -0.75, 1.6, -0.85, 0.6, -0.8, 0.7, -0.75,
     1.1, -0.9, 0.6, -2.9],
    [-0.8, 0.6, -0.75, 0.65, -0.85, 0.55, -0.8, 0.7, -0.75, 0.6, -0.9, 0.65, -0.8, 0.55, -1.2, 0.6, -0.75, 0.7, -0.85, 0.6,
     -0.8, 0.65, -0.75, 0.55, -0.85, 0.6, -0.8, 0.7, -0.75, 0.65, -1.0, 0.6, -0.8, 0.55, -0.85, 0.65, -0.75, 0.6, -0.8, 0.7,
     -0.85, 0.6, -0.75, 0.65, -0.8, 0.55, -0.9, 0.8, -0.75, 0.6, -0.85, 1.2, -0.8, 0.7, -0.75, 2.5, -0.85, 0.9, -0.8, 0.65,
     -1.3, 0.6, -0.75, 0.7],
    [0.45, -0.6, 0.4, -0.65, 0.5, -0.6, 0.45, -0.55, 0.4, -0.65, 0.5, -0.6, 0.45, -0.65, 0.4, -0.55, 0.5, -0.6, 0.45, -0.65,
     0.4, -0.6, 0.5, -0.55, 0.45, -0.65, 0.4, -0.6, 0.5, -0.65, 0.45, -0.55, 0.4, -0.6, 0.5, -0.65, 0.45, -0.6, 0.4, -0.55,
     0.5, -0.65, 0.45, -0.6, 0.4, -0.65, 0.5, -0.55, 0.45, -0.6, 0.4, -0.65, 0.5, -0.6, 0.45, -0.55, 0.4, -0.65, 0.5, -0.6,
     0.45, -1.6, 0.4, -0.6],
    [-0.6, 0.45, -0.65, 0.4, -0.55, 0.5, -0.6, 0.45, -0.65, 0.4, -0.6, 0.5, -0.55, 0.45, -0.65, 0.4, -0.6, 0.5, -0.65, 0.45,
     -0.55, 0.4, -0.6, 0.5, -0.65, 0.45, -0.6, 0.4, -0.55, 0.5, -0.65, 0.45, -0.6, 0.4, -0.65, 0.5, -0.55, 0.45, -0.6, 0.4,
     -0.65, 0.5, -0.6, 0.45, -0.55, 0.4, -0.65, 0.5, -0.6, 0.45, -0.65, 0.4, -0.55, 0.5, -0.6, 0.45, -0.65, 0.4, -0.6, 0.5,
     -0.55, 0.45, -0.65, 0.4],
]

panels = [
    (p1_dens_x, p1_dens_y, p1_dens_lims, p1_dens_xticks, p1_dens_yticks, p1_trace_lims, p1_trace_yticks, p1_chains),
    (p2_dens_x, p2_dens_y, p2_dens_lims, p2_dens_xticks, p2_dens_yticks, p2_trace_lims, p2_trace_yticks, p2_chains),
    (p3_dens_x, p3_dens_y, p3_dens_lims, p3_dens_xticks, p3_dens_yticks, p3_trace_lims, p3_trace_yticks, p3_chains),
    (p4_dens_x, p4_dens_y, p4_dens_lims, p4_dens_xticks, p4_dens_yticks, p4_trace_lims, p4_trace_yticks, p4_chains),
    (p5_dens_x, p5_dens_y, p5_dens_lims, p5_dens_xticks, p5_dens_yticks, p5_trace_lims, p5_trace_yticks, p5_chains),
    (p6_dens_x, p6_dens_y, p6_dens_lims, p6_dens_xticks, p6_dens_yticks, p6_trace_lims, p6_trace_yticks, p6_chains),
    (p7_dens_x, p7_dens_y, p7_dens_lims, p7_dens_xticks, p7_dens_yticks, p7_trace_lims, p7_trace_yticks, p7_chains),
    (p8_dens_x, p8_dens_y, p8_dens_lims, p8_dens_xticks, p8_dens_yticks, p8_trace_lims, p8_trace_yticks, p8_chains),
    (p9_dens_x, p9_dens_y, p9_dens_lims, p9_dens_xticks, p9_dens_yticks, p9_trace_lims, p9_trace_yticks, p9_chains),
    (p10_dens_x, p10_dens_y, p10_dens_lims, p10_dens_xticks, p10_dens_yticks, p10_trace_lims, p10_trace_yticks, p10_chains),
]

# ---------------------------------------------------------------- style
plt.rcParams["font.family"] = ["Liberation Serif", "DejaVu Serif"]
SANS = ["Liberation Sans", "DejaVu Sans"]
DENS_FILL = "#5f95b2"
DENS_EDGE = "#1f5f8c"
CHAIN_COLORS = ["#3d6d93", "#0d2f5a", "#aecbe0", "#cfe0ec"]
CHAIN_WIDTHS = [0.45, 0.45, 1.25, 1.25]
AXIS_COLOR = "#262626"
TICK_LABEL_COLOR = "#555555"

W, H = 526, 550
fig = plt.figure(figsize=(W / 100, H / 100), dpi=100)
fig.patch.set_facecolor("white")

row_tops = [17, 72, 124, 178, 231, 299, 352, 405, 459, 512]
row_height = 25
left_col = (17, 258)
right_col = (277, 495)


def add_px_axes(x0, x1, top):
    bottom = top + row_height
    return fig.add_axes([x0 / W, 1 - bottom / H, (x1 - x0) / W, row_height / H])


def fmt_ticks(vals):
    for d in range(0, 4):
        if all(abs(v * 10 ** d - round(v * 10 ** d)) < 1e-6 for v in vals):
            break
    return [f"{v:.{d}f}" for v in vals]


def style_axes(ax):
    for s in ("top", "right"):
        ax.spines[s].set_visible(False)
    for s in ("left", "bottom"):
        ax.spines[s].set_linewidth(0.55)
        ax.spines[s].set_color(AXIS_COLOR)
    ax.tick_params(length=1.4, width=0.4, color=AXIS_COLOR, labelsize=2.5,
                   labelcolor=TICK_LABEL_COLOR, pad=1.2)
    ax.set_facecolor("white")


def add_title(x0, top, text):
    fig.text((x0 + 5) / W, 1 - (top - 5.5) / H, text, ha="left", va="center",
             fontsize=3.6, color="#333333", family=SANS)


for i, (dx, dy, dlim, dxt, dyt, tlim, tyt, chains) in enumerate(panels):
    top = row_tops[i]
    # density panel
    ax = add_px_axes(left_col[0], left_col[1], top)
    ax.fill_between(dx, dy, 0, color=DENS_FILL, lw=0)
    ax.plot(dx, dy, color=DENS_EDGE, lw=0.4)
    ax.set_xlim(*dlim)
    ax.set_ylim(0, max(dy) * 1.02)
    ax.set_xticks(dxt)
    ax.set_xticklabels(fmt_ticks(dxt))
    ax.set_yticks(dyt)
    ax.set_yticklabels(fmt_ticks(dyt))
    style_axes(ax)
    add_title(left_col[0], top, titles[i])

    # trace panel
    axt = add_px_axes(right_col[0], right_col[1], top)
    for c, vals in enumerate(chains):
        it = np.linspace(1, n_iterations, len(vals))
        axt.plot(it, vals, color=CHAIN_COLORS[c], lw=CHAIN_WIDTHS[c])
    axt.set_xlim(-200, 4200)
    axt.set_ylim(*tlim)
    axt.set_xticks(trace_xticks)
    axt.set_xticklabels([str(t) for t in trace_xticks])
    axt.set_yticks(tyt)
    axt.set_yticklabels(fmt_ticks(tyt))
    style_axes(axt)
    add_title(right_col[0], top, titles[i])

# legends (one per half of the figure)
handles = [Line2D([0], [0], color=c, lw=0.8) for c in CHAIN_COLORS]
for y_top in (115.5, 396.5):
    leg = fig.legend(handles, chain_labels, title="Chain", loc="upper left",
                     bbox_to_anchor=(504 / W, 1 - y_top / H), frameon=False,
                     fontsize=3.6, title_fontsize=3.8, borderpad=0, borderaxespad=0,
                     handlelength=1.4, handletextpad=0.9, labelspacing=0.75)
    leg._legend_box.align = "left"
    for t in leg.get_texts():
        t.set_color("#333333")
    leg.get_title().set_color("#333333")

fig.savefig("out.png", dpi=100, facecolor="white")
